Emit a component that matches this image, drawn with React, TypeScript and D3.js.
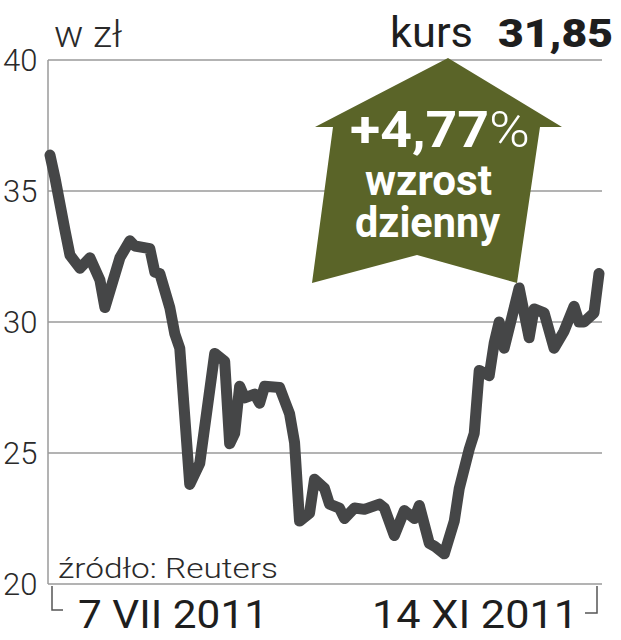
import React from 'react';
import * as d3 from 'd3';

// kurs akcji, sesje od 7 VII 2011
const days = [0, 1, 3, 4, 6, 8, 10, 11, 14, 16, 17, 20, 21, 22, 24, 25, 26, 28, 30, 33, 35, 36, 37, 38, 39, 41, 42, 43, 46, 47, 48, 49, 50, 52, 53, 55, 56, 58, 59, 61, 63, 66, 67, 69, 71, 73, 74, 76, 77, 79, 81, 82, 84, 85, 86, 88, 89, 90, 91, 94, 96, 97, 99, 101, 103, 105, 106, 107, 109, 110];
const prices = [36.37, 35.5, 33.5, 32.55, 32.05, 32.45, 31.6, 30.55, 32.45, 33.1, 32.9, 32.8, 31.9, 31.85, 30.55, 29.55, 29.0, 23.8, 24.6, 28.8, 28.5, 25.35, 25.75, 27.55, 27.1, 27.25, 26.9, 27.55, 27.5, 27.0, 26.5, 25.4, 22.4, 22.7, 24.0, 23.65, 23.05, 22.9, 22.5, 22.9, 22.85, 23.05, 22.9, 21.85, 22.8, 22.5, 23.0, 21.55, 21.45, 21.15, 22.4, 23.65, 25.15, 25.75, 28.15, 27.95, 29.2, 30.0, 29.0, 31.3, 29.4, 30.5, 30.35, 29.0, 29.65, 30.6, 30.0, 30.0, 30.35, 31.85];
const yTicks = [20, 25, 30, 35, 40];
const dateLabels = ['7 VII 2011', '14 XI 2011'];
const lastPrice = '31,85';
const change = '+4,77';

const font = 'Roboto, "Noto Sans", sans-serif';

export default function App() {
  const width = 621;
  const height = 640;
  const left = 48;
  const right = 602;
  const top = 60;
  const bottom = 584;

  const x = d3.scaleLinear().domain([0, 110]).range([50, 599]);
  const y = d3.scaleLinear().domain([20, 40]).range([bottom, top]);

  const data = days.map((d, i) => ({ d, v: prices[i] }));
  const line = d3.line<{ d: number; v: number }>()
    .x(p => x(p.d))
    .y(p => y(p.v));

  // strzałka "wzrost"
  const arrow = [
    [448, 58], [562, 127], [540, 127], [517, 283], [417, 255],
    [312, 283], [333, 127], [315, 127],
  ];

  return (
    <svg width={width} height={height} style={{ position: 'absolute', left: 0, top: 0, background: '#fff' }}>
      {yTicks.slice(1).map(t => (
        <line key={t} x1={left} x2={right} y1={y(t)} y2={y(t)} stroke='#9a9a9a' strokeWidth={1.5} />
      ))}
      <line x1={left} x2={left} y1={top} y2={bottom} stroke='#9a9a9a' strokeWidth={1.5} />
      <line x1={left} x2={right} y1={bottom} y2={bottom} stroke='#9a9a9a' strokeWidth={1.5} />
      {yTicks.map(t => (
        <text key={t} x={3} y={y(t)} dy='0.35em' fontFamily={font} fontWeight={300} fontSize={31} fill='#2a2a2a'>{t}</text>
      ))}

      <path d={`M52,586V610H63`} fill='none' stroke='#555' strokeWidth={1.5} />
      <path d={`M597,586V613H585`} fill='none' stroke='#555' strokeWidth={1.5} />
      <text x={78} y={628} fontFamily={font} fontWeight={400} fontSize={39} fill='#1e1e1e' textLength={190} lengthAdjust='spacingAndGlyphs'>{dateLabels[0]}</text>
      <text x={372} y={628} fontFamily={font} fontWeight={400} fontSize={39} fill='#1e1e1e' textLength={206} lengthAdjust='spacingAndGlyphs'>{dateLabels[1]}</text>

      <text x={58} y={578} fontFamily={font} fontWeight={300} fontSize={28} fill='#2a2a2a' textLength={220} lengthAdjust='spacingAndGlyphs'>źródło: Reuters</text>
      <text x={54} y={47} fontFamily={font} fontWeight={300} fontSize={36} fill='#2a2a2a' textLength={68} lengthAdjust='spacingAndGlyphs'>w zł</text>

      <path d={line(data) ?? ''} fill='none' stroke='#454647' strokeWidth={11} strokeLinejoin='round' strokeLinecap='round' />

      <polygon points={arrow.map(p => p.join(',')).join(' ')} fill='#5a6428' />
      <text x={350} y={147} fontFamily={font} fill='#fff' fontSize={50} textLength={180} lengthAdjust='spacingAndGlyphs'>
        <tspan fontWeight={700}>{change}</tspan>
        <tspan fontWeight={300}>%</tspan>
      </text>
      <text x={365} y={195} fontFamily={font} fontWeight={700} fill='#fff' fontSize={42} textLength={127} lengthAdjust='spacingAndGlyphs'>wzrost</text>
      <text x={355} y={237} fontFamily={font} fontWeight={700} fill='#fff' fontSize={42} textLength={145} lengthAdjust='spacingAndGlyphs'>dzienny</text>

      <text x={390} y={47} fontFamily={font} fontWeight={400} fontSize={43} fill='#1e1e1e' textLength={83} lengthAdjust='spacingAndGlyphs'>kurs</text>
      <text x={498} y={47} fontFamily={font} fontWeight={900} fontSize={39} fill='#1e1e1e' textLength={115} lengthAdjust='spacingAndGlyphs'>{lastPrice}</text>
    </svg>
  );
}
